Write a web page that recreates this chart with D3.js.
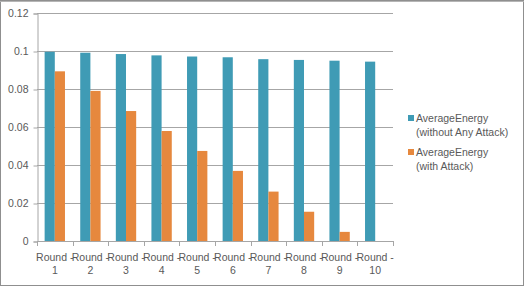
<!DOCTYPE html>
<html>

<head>
    <title>Average Energy per Round</title>
    <script src="https://d3js.org/d3.v7.min.js"></script>
    <style>
        body { margin: 0; background: #fff; }
        text { font-family: "Liberation Sans", Arial, sans-serif; fill: #595959; }
    </style>
</head>

<body>
    <svg id="chart"></svg>

    <script>
        // data
        const rounds = ['Round - 1', 'Round - 2', 'Round - 3', 'Round - 4', 'Round - 5',
            'Round - 6', 'Round - 7', 'Round - 8', 'Round - 9', 'Round - 10'];
        const seriesNames = ['AverageEnergy (without Any Attack)', 'AverageEnergy (with Attack)'];
        const noAttack = [0.0996, 0.0991, 0.0984, 0.0977, 0.0971, 0.0967, 0.0957, 0.0953, 0.0949, 0.0944];
        const withAttack = [0.0893, 0.0790, 0.0684, 0.0579, 0.0474, 0.0369, 0.0260, 0.0154, 0.0048, 0];
        const yTicks = [0, 0.02, 0.04, 0.06, 0.08, 0.1, 0.12];
        const colors = ['#3f9bb5', '#e6883e'];

        const width = 524;
        const height = 286;
        const plot = { left: 37, right: 393, top: 13, bottom: 241 };

        const svg = d3.select('#chart')
            .attr('width', width)
            .attr('height', height);

        // chart border
        svg.append('rect')
            .attr('x', 0.5).attr('y', 0.5)
            .attr('width', width - 1).attr('height', height - 1)
            .attr('fill', '#fff')
            .attr('stroke', '#8f8f8f');
        svg.append('line')
            .attr('x1', 0).attr('x2', width)
            .attr('y1', 1.5).attr('y2', 1.5)
            .attr('stroke', '#b5b5b5');

        const x0 = d3.scaleBand()
            .domain(rounds)
            .range([plot.left, plot.right]);

        const x1 = d3.scaleBand()
            .domain([0, 1])
            .range([0, x0.bandwidth()])
            .paddingInner(0)
            .paddingOuter(0.75);

        const y = d3.scaleLinear()
            .domain([0, 0.12])
            .range([plot.bottom, plot.top]);

        // gridlines
        svg.append('g')
            .selectAll('line')
            .data(yTicks.filter(d => d > 0))
            .enter()
            .append('line')
            .attr('x1', plot.left)
            .attr('x2', plot.right)
            .attr('y1', d => Math.round(y(d)) + 0.5)
            .attr('y2', d => Math.round(y(d)) + 0.5)
            .attr('stroke', '#a6a6a6');

        // y axis
        const yAxis = svg.append('g')
            .attr('transform', `translate(${plot.left + 0.5},0.5)`)
            .call(d3.axisLeft(y).tickValues(yTicks).tickFormat(d3.format('')).tickSizeOuter(0).tickSize(4).tickPadding(5));
        yAxis.select('.domain').attr('stroke', '#a6a6a6');
        yAxis.selectAll('.tick line').attr('stroke', '#a6a6a6');
        yAxis.selectAll('.tick text')
            .attr('font-size', 10.5)
            .attr('font-family', 'Liberation Sans, Arial, sans-serif')
            .attr('fill', '#595959');

        // bars
        const series = [noAttack, withAttack];
        series.forEach((vals, si) => {
            svg.append('g')
                .selectAll('rect')
                .data(vals)
                .enter()
                .append('rect')
                .attr('x', (d, i) => x0(rounds[i]) + x1(si))
                .attr('y', d => y(d))
                .attr('width', x1.bandwidth())
                .attr('height', d => y(0) - y(d))
                .attr('fill', colors[si]);
        });

        // x axis with category boundary ticks
        svg.append('line')
            .attr('x1', plot.left).attr('x2', plot.right)
            .attr('y1', plot.bottom + 0.5).attr('y2', plot.bottom + 0.5)
            .attr('stroke', '#a6a6a6');
        const bounds = rounds.map(r => x0(r)).concat([plot.right]);
        svg.append('g')
            .selectAll('line')
            .data(bounds)
            .enter()
            .append('line')
            .attr('x1', d => Math.round(d) + 0.5)
            .attr('x2', d => Math.round(d) + 0.5)
            .attr('y1', plot.bottom)
            .attr('y2', plot.bottom + 5)
            .attr('stroke', '#a6a6a6');

        const xLabels = svg.append('g')
            .selectAll('text')
            .data(rounds)
            .enter()
            .append('text')
            .attr('text-anchor', 'middle')
            .attr('font-size', 10.5)
            .attr('x', d => x0(d) + x0.bandwidth() / 2);
        xLabels.append('tspan')
            .attr('x', d => x0(d) + x0.bandwidth() / 2)
            .attr('y', 261)
            .text(d => d.slice(0, d.lastIndexOf(' ')));
        xLabels.append('tspan')
            .attr('x', d => x0(d) + x0.bandwidth() / 2)
            .attr('y', 274)
            .text(d => d.slice(d.lastIndexOf(' ') + 1));

        // legend
        const legend = svg.append('g')
            .selectAll('g')
            .data(seriesNames)
            .enter()
            .append('g')
            .attr('transform', (d, i) => `translate(408,${118 + i * 34})`);
        legend.append('rect')
            .attr('x', 0).attr('y', -3)
            .attr('width', 6).attr('height', 6)
            .attr('fill', (d, i) => colors[i]);
        const legendText = legend.append('text')
            .attr('font-size', 10.5);
        legendText.append('tspan')
            .attr('x', 8).attr('y', 4)
            .text(d => d.split(' ')[0]);
        legendText.append('tspan')
            .attr('x', 8).attr('y', 17.5)
            .text(d => d.slice(d.indexOf(' ') + 1));
    </script>
</body>

</html>
